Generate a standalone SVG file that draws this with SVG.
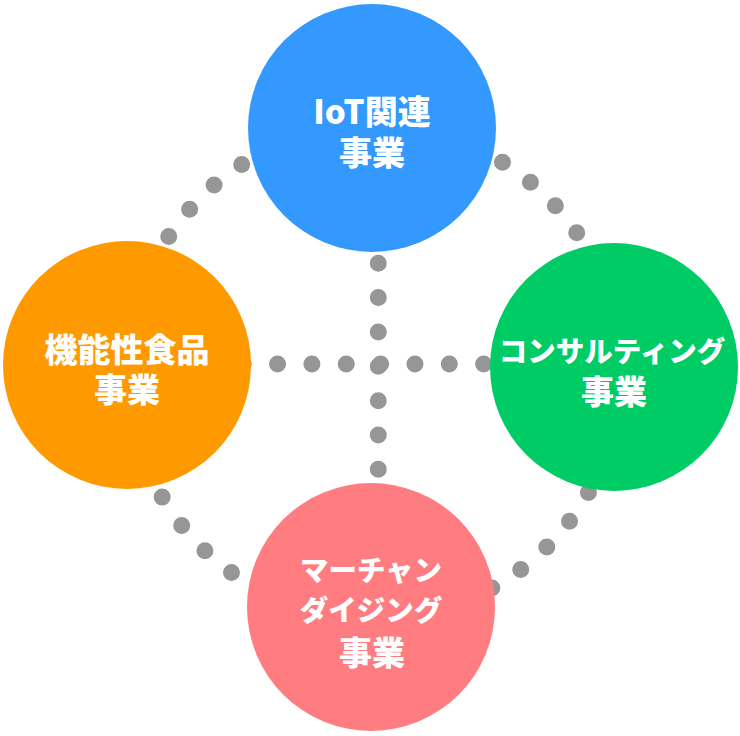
<svg xmlns="http://www.w3.org/2000/svg" width="740" height="736" viewBox="0 0 740 736">
  <style>
    .dots { fill: none; stroke: #969696; stroke-width: 17; stroke-linecap: round; stroke-dasharray: 0 34.35; }
    .label { fill: #ffffff; font-family: "Noto Sans CJK JP", "Noto Sans", sans-serif; font-weight: 900; text-anchor: middle; dominant-baseline: central; }
    .kanji { font-size: 33px; }
    .kana { font-size: 28.5px; }
  </style>
  <rect width="740" height="736" fill="#ffffff"/>
  <g id="connectors">
    <circle class="dots" cx="374" cy="372" r="246" stroke-dashoffset="-22.97"/>
    <line class="dots" x1="174.5" y1="364" x2="553" y2="364"/>
    <line class="dots" x1="378.3" y1="228.9" x2="378.3" y2="504.1"/>
  </g>
  <g id="node-iot">
    <circle cx="372" cy="128" r="124" fill="#3399ff"/>
    <text class="label kanji" x="372" y="110">IoT関連</text>
    <text class="label kanji" x="372" y="151">事業</text>
  </g>
  <g id="node-food">
    <circle cx="127" cy="365" r="124" fill="#ff9900"/>
    <text class="label kanji" x="127" y="348">機能性食品</text>
    <text class="label kanji" x="127" y="388">事業</text>
  </g>
  <g id="node-consulting">
    <circle cx="614" cy="367" r="124" fill="#00cc66"/>
    <text class="label kana" x="612" y="349">コンサルティング</text>
    <text class="label kanji" x="614" y="390">事業</text>
  </g>
  <g id="node-merchandising">
    <circle cx="371" cy="607" r="124" fill="#ff7c80"/>
    <text class="label kana" x="371" y="568">マーチャン</text>
    <text class="label kana" x="371" y="608">ダイジング</text>
    <text class="label kanji" x="372" y="651">事業</text>
  </g>
</svg>
